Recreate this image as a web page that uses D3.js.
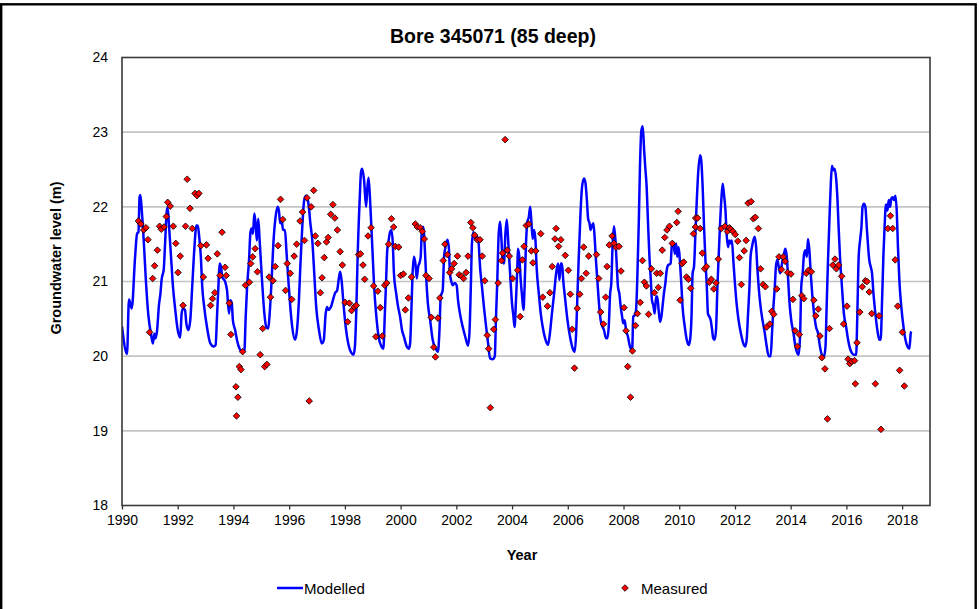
<!DOCTYPE html>
<html>
<head>
<meta charset="utf-8">
<script src="https://cdn.jsdelivr.net/npm/d3@7"></script>
<style>
  html, body { margin: 0; padding: 0; background: #fff; }
  svg { display: block; font-family: Arial, "Liberation Sans", sans-serif; }
</style>
</head>
<body>
<svg id="chart" width="979" height="609"></svg>
<script>
// ---------- DATA ----------
const chartTitle = "Bore 345071 (85 deep)";
const xTicks = [1990,1992,1994,1996,1998,2000,2002,2004,2006,2008,2010,2012,2014,2016,2018];
const yTicks = [18,19,20,21,22,23,24];

const modelledDates = [
1990.00,1990.18,1990.25,1990.35,1990.47,1990.54,1990.59,1990.63,1990.66,1990.71,1990.78,1990.85,1990.94,
1991.04,1991.11,1991.16,1991.21,1991.26,1991.33,1991.38,1991.42,1991.50,1991.54,1991.61,1991.64,1991.69,1991.76,1991.83,1991.90,
1992.00,1992.09,1992.14,1992.19,1992.26,1992.31,1992.38,1992.45,1992.52,1992.60,1992.67,1992.72,1992.76,1992.83,1992.88,1992.95,
1993.05,1993.17,1993.29,1993.36,1993.41,1993.46,1993.50,1993.55,1993.60,1993.70,1993.77,1993.84,1993.89,1993.94,1993.98,
1994.06,1994.13,1994.22,1994.32,1994.39,1994.44,1994.49,1994.56,1994.61,1994.65,1994.70,1994.75,1994.80,1994.84,1994.89,1994.94,1994.99,
1995.04,1995.11,1995.18,1995.25,1995.30,1995.37,1995.44,1995.51,1995.59,1995.63,1995.68,1995.73,1995.78,1995.85,1995.90,1995.97,
1996.04,1996.11,1996.21,1996.28,1996.35,1996.40,1996.47,1996.54,1996.61,1996.66,1996.73,1996.75,1996.83,1996.90,1996.97,
1997.07,1997.17,1997.24,1997.31,1997.36,1997.40,1997.50,1997.57,1997.64,1997.72,1997.79,1997.83,1997.88,1997.95,
1998.03,1998.12,1998.24,1998.31,1998.36,1998.41,1998.46,1998.53,1998.58,1998.62,1998.69,1998.76,1998.81,1998.85,1998.90,1998.95,
1999.00,1999.05,1999.12,1999.21,1999.31,1999.38,1999.43,1999.48,1999.52,1999.57,1999.62,1999.67,1999.72,1999.76,1999.84,1999.91,1999.98,
2000.05,2000.12,2000.22,2000.29,2000.34,2000.39,2000.43,2000.48,2000.53,2000.58,2000.63,2000.67,2000.72,2000.77,2000.82,2000.86,2000.91,2000.98,
2001.06,2001.15,2001.25,2001.34,2001.39,2001.44,2001.51,2001.56,2001.61,2001.68,2001.73,2001.77,2001.82,2001.87,2001.94,
2002.01,2002.06,2002.13,2002.23,2002.32,2002.42,2002.47,2002.52,2002.56,2002.61,2002.66,2002.71,2002.75,2002.80,2002.85,2002.92,2002.99,
2003.07,2003.14,2003.21,2003.31,2003.38,2003.42,2003.47,2003.52,2003.57,2003.62,2003.66,2003.71,2003.76,2003.81,2003.86,2003.90,2003.95,
2004.00,2004.05,2004.09,2004.14,2004.19,2004.21,2004.26,2004.31,2004.36,2004.41,2004.45,2004.50,2004.55,2004.60,2004.65,2004.69,2004.74,2004.79,2004.84,2004.88,2004.96,
2005.03,2005.10,2005.20,2005.29,2005.36,2005.43,2005.51,2005.58,2005.65,2005.70,2005.75,2005.79,2005.84,2005.91,2005.99,
2006.08,2006.18,2006.25,2006.30,2006.34,2006.39,2006.46,2006.51,2006.58,2006.63,2006.68,2006.73,2006.78,2006.82,2006.87,2006.92,2006.97,
2007.01,2007.06,2007.11,2007.18,2007.25,2007.30,2007.37,2007.42,2007.47,2007.52,2007.56,2007.61,2007.66,2007.71,2007.76,2007.80,2007.85,2007.90,2007.95,2007.99,
2008.04,2008.09,2008.16,2008.23,2008.31,2008.35,2008.40,2008.45,2008.50,2008.55,2008.59,2008.64,2008.69,2008.74,2008.78,2008.83,2008.88,2008.93,2008.98,
2009.02,2009.07,2009.12,2009.17,2009.21,2009.26,2009.31,2009.36,2009.41,2009.45,2009.50,2009.55,2009.60,2009.65,2009.69,2009.74,2009.79,2009.84,2009.89,2009.93,2009.98,
2010.03,2010.08,2010.12,2010.20,2010.27,2010.34,2010.39,2010.44,2010.48,2010.53,2010.58,2010.63,2010.67,2010.75,2010.79,2010.84,2010.89,2010.94,2010.99,
2011.03,2011.08,2011.13,2011.18,2011.22,2011.27,2011.32,2011.37,2011.42,2011.46,2011.51,2011.56,2011.61,2011.66,2011.70,2011.75,2011.80,2011.85,2011.89,2011.94,2011.99,
2012.06,2012.13,2012.21,2012.30,2012.37,2012.42,2012.47,2012.52,2012.56,2012.61,2012.66,2012.71,2012.76,2012.80,2012.85,2012.92,2012.99,
2013.07,2013.14,2013.21,2013.28,2013.33,2013.38,2013.43,2013.47,2013.52,2013.57,2013.62,2013.67,2013.71,2013.76,2013.81,2013.86,2013.91,2013.95,
2014.02,2014.10,2014.17,2014.24,2014.29,2014.34,2014.38,2014.43,2014.48,2014.53,2014.58,2014.62,2014.67,2014.72,2014.77,2014.84,2014.91,2014.98,
2015.05,2015.12,2015.20,2015.25,2015.29,2015.34,2015.39,2015.44,2015.48,2015.53,2015.58,2015.63,2015.68,2015.72,2015.77,2015.84,2015.91,2015.99,
2016.06,2016.13,2016.20,2016.27,2016.35,2016.39,2016.44,2016.49,2016.54,2016.58,2016.63,2016.68,2016.73,2016.78,2016.82,2016.87,2016.92,2016.97,
2017.04,2017.11,2017.18,2017.23,2017.28,2017.33,2017.37,2017.42,2017.47,2017.52,2017.57,2017.61,2017.66,2017.71,2017.76,2017.81,2017.85,2017.90,2017.97,
2018.05,2018.12,2018.19,2018.26,2018.31,2018.33
];
const modelledLevels = [
20.40,20.03,20.76,20.64,21.33,21.64,21.66,22.13,22.16,21.95,21.55,21.06,20.57,
20.30,20.17,20.30,20.24,20.35,20.70,20.84,21.02,21.17,21.46,21.95,21.99,21.73,21.33,20.93,20.66,
20.35,20.25,20.57,20.64,20.62,20.44,20.35,20.48,20.93,21.46,21.75,21.75,21.64,21.33,20.93,20.66,
20.39,20.17,20.13,20.15,20.53,20.93,21.24,21.20,21.06,21.00,20.88,20.57,20.75,20.71,20.48,
20.35,20.21,20.10,20.06,20.06,20.53,20.93,21.29,21.66,21.71,21.64,21.91,21.75,21.55,21.84,21.55,21.24,
20.93,20.57,20.39,20.37,20.57,21.02,21.55,21.86,22.00,21.95,21.78,21.82,21.69,21.69,21.42,21.02,
20.66,20.39,20.22,20.35,20.75,21.20,21.73,22.09,22.15,22.11,21.91,21.82,21.55,21.11,20.66,
20.35,20.17,20.21,20.57,20.66,20.62,20.66,20.75,20.84,20.88,21.06,21.13,21.02,20.70,
20.39,20.17,20.04,20.02,20.13,20.62,21.37,22.09,22.47,22.51,22.35,22.00,22.27,22.39,22.12,21.73,
21.33,20.93,20.57,20.26,20.13,20.10,20.53,21.02,21.42,21.55,21.66,21.69,21.51,21.11,20.84,20.66,20.53,
20.35,20.26,20.13,20.10,20.17,20.66,21.11,21.33,21.24,21.04,21.20,21.24,21.33,21.73,21.73,21.51,21.11,20.70,
20.48,20.22,20.11,20.06,20.31,20.80,20.88,21.33,21.46,21.56,21.46,21.11,21.00,20.95,20.98,
20.95,20.75,20.57,20.39,20.26,20.14,20.31,20.93,21.51,21.66,21.60,21.55,21.60,21.51,21.20,20.93,20.66,
20.39,20.17,19.97,19.96,20.00,20.48,21.02,21.64,21.80,21.55,21.29,21.24,21.64,21.83,21.55,21.29,20.98,
20.70,20.53,20.39,20.75,21.20,21.44,21.33,21.02,20.80,20.62,20.93,21.51,21.80,21.86,22.00,21.82,21.57,21.69,21.55,21.20,20.84,
20.57,20.39,20.22,20.15,20.31,20.57,20.84,21.11,21.24,21.02,21.24,21.24,21.00,20.75,20.48,
20.26,20.10,20.06,20.31,20.75,21.29,21.95,22.26,22.38,22.33,22.12,21.84,21.78,21.69,21.75,21.78,21.55,
21.29,21.02,20.75,20.48,20.39,20.35,20.24,20.24,20.40,20.84,20.97,21.51,21.74,21.55,21.20,20.93,20.84,20.66,20.53,20.44,
20.48,20.35,20.26,20.13,20.08,20.53,20.55,20.62,21.11,21.82,22.53,23.02,23.08,22.76,22.53,22.27,21.78,21.33,21.02,
20.75,20.68,20.57,20.80,20.80,20.62,20.46,20.53,20.70,20.84,20.97,21.15,21.22,21.23,21.24,21.51,21.53,21.37,21.51,21.33,21.46,
21.24,20.93,20.66,20.39,20.22,20.15,20.22,20.53,21.11,21.20,21.64,22.09,22.40,22.69,22.62,22.27,21.73,21.29,20.93,
20.57,20.53,20.48,20.35,20.24,20.22,20.35,20.93,21.38,21.73,22.09,22.31,22.15,21.95,21.64,21.46,21.55,21.51,21.55,21.29,21.02,
20.70,20.48,20.31,20.17,20.13,20.22,20.57,20.93,21.33,21.46,21.55,21.60,21.46,21.20,20.93,20.66,20.48,
20.31,20.13,20.00,20.00,20.31,20.66,20.93,21.20,21.29,21.20,21.11,21.20,21.29,21.37,21.44,21.33,21.02,20.75,
20.48,20.31,20.13,20.04,20.02,20.31,20.93,21.11,21.37,21.42,21.33,21.57,21.42,21.11,20.84,20.57,20.39,20.31,
20.13,20.02,20.00,20.13,20.66,21.29,21.82,22.31,22.55,22.49,22.51,22.38,22.09,21.73,21.33,20.93,20.57,20.39,
20.22,20.10,20.04,20.02,20.02,20.53,21.33,21.55,21.73,22.00,22.04,22.00,21.73,21.46,21.29,21.20,21.11,20.84,
20.57,20.35,20.22,20.22,20.75,21.37,21.73,22.03,21.95,22.09,22.00,22.11,22.13,22.09,22.15,21.91,21.46,21.02,20.66,
20.39,20.22,20.13,20.10,20.31,20.33
];

const measuredDates = [
1990.59,1990.68,1990.78,1990.86,1990.93,1990.99,
1991.10,1991.17,1991.27,1991.35,1991.41,1991.51,1991.59,1991.64,1991.73,1991.84,1991.93,
1992.01,1992.09,1992.19,1992.28,1992.34,1992.44,1992.52,1992.62,1992.69,1992.76,1992.83,1992.92,
1993.03,1993.09,1993.18,1993.25,1993.33,1993.42,1993.52,1993.59,1993.70,1993.74,1993.85,1993.91,
1994.09,1994.11,1994.16,1994.21,1994.27,1994.33,1994.43,1994.57,1994.62,1994.69,1994.78,1994.86,1994.96,
1995.05,1995.12,1995.20,1995.28,1995.33,1995.42,1995.50,1995.60,1995.69,1995.77,1995.87,1995.93,
1996.04,1996.09,1996.18,1996.27,1996.39,1996.48,1996.55,1996.64,1996.72,1996.79,1996.88,1996.94,
1997.03,1997.12,1997.18,1997.26,1997.34,1997.40,1997.49,1997.57,1997.64,1997.73,1997.83,1997.91,
1998.01,1998.10,1998.16,1998.24,1998.33,1998.41,1998.49,1998.56,1998.65,1998.71,1998.83,1998.94,
1999.03,1999.11,1999.18,1999.27,1999.34,1999.43,1999.50,1999.57,1999.67,1999.75,1999.81,1999.93,
2000.00,2000.10,2000.17,2000.28,2000.39,2000.53,2000.60,2000.70,2000.78,2000.85,2000.91,
2001.02,2001.10,2001.19,2001.25,2001.34,2001.41,2001.53,2001.59,2001.68,2001.76,2001.83,2001.92,
2002.04,2002.10,2002.19,2002.26,2002.35,2002.42,2002.52,2002.59,2002.66,2002.75,2002.85,2002.93,
2003.02,2003.11,2003.16,2003.22,2003.34,2003.40,2003.50,2003.62,2003.66,2003.75,2003.83,2003.90,
2004.02,2004.20,2004.29,2004.37,2004.43,2004.51,2004.60,2004.69,2004.75,2004.85,
2005.03,2005.10,2005.27,2005.36,2005.44,2005.54,2005.58,2005.67,2005.75,2005.91,
2006.02,2006.09,2006.16,2006.24,2006.34,2006.43,2006.49,2006.57,2006.66,2006.75,
2007.03,2007.11,2007.18,2007.28,2007.36,2007.41,2007.49,2007.59,2007.66,2007.73,2007.84,2007.91,
2008.02,2008.09,2008.15,2008.25,2008.32,2008.43,2008.50,2008.60,2008.68,2008.75,2008.82,2008.90,
2009.00,2009.11,2009.19,2009.25,2009.32,2009.39,2009.48,2009.56,2009.65,2009.75,2009.91,2009.96,
2010.03,2010.10,2010.16,2010.26,2010.33,2010.41,2010.51,2010.58,2010.59,2010.66,2010.75,2010.83,2010.91,2010.98,
2011.08,2011.15,2011.24,2011.32,2011.40,2011.51,2011.64,2011.73,2011.80,2011.85,2011.93,
2012.01,2012.10,2012.16,2012.23,2012.33,2012.40,2012.47,2012.58,2012.66,2012.73,2012.84,2012.92,
2013.01,2013.09,2013.14,2013.25,2013.32,2013.39,2013.50,2013.58,2013.67,2013.73,2013.80,2013.89,
2014.01,2014.08,2014.16,2014.24,2014.31,2014.40,2014.47,2014.56,2014.64,2014.74,2014.83,2014.90,2014.99,
2015.05,2015.12,2015.23,2015.32,2015.39,2015.51,2015.59,2015.64,2015.72,2015.83,2015.90,
2016.02,2016.06,2016.12,2016.19,2016.29,2016.32,2016.38,2016.48,2016.57,2016.68,2016.74,2016.82,2016.91,
2017.04,2017.17,2017.24,2017.49,2017.58,2017.66,2017.75,2017.84,2017.91,
2018.01,2018.08
];
const measuredLevels = [
21.81,21.77,21.69,21.72,21.56,20.32,
21.04,21.21,21.42,21.74,21.70,21.73,21.87,22.06,22.01,21.74,21.51,
21.12,21.34,20.68,21.74,22.37,21.98,21.71,22.18,22.15,22.18,21.48,21.06,
21.49,21.31,20.68,20.77,20.85,21.37,21.08,21.66,21.19,21.08,20.71,20.29,
19.59,19.20,19.45,19.86,19.82,20.06,20.95,20.99,21.24,21.33,21.44,21.13,20.02,
20.37,19.86,19.89,21.06,20.79,21.01,21.20,21.48,22.10,21.83,20.88,21.24,
21.11,20.76,21.34,21.50,21.81,21.93,21.55,22.12,19.40,22.00,22.22,21.61,
21.51,20.85,21.05,21.32,21.53,21.59,21.90,22.03,21.85,21.69,21.40,21.22,
20.72,20.46,20.71,20.61,20.66,20.68,21.36,21.37,21.22,21.03,21.61,21.72,
20.94,20.26,20.87,20.65,20.27,20.95,20.98,21.50,21.84,21.73,21.47,21.46,
21.08,21.10,20.62,20.78,21.06,21.77,21.73,21.72,21.67,21.57,21.08,
21.04,20.52,20.12,19.99,20.51,20.78,21.28,21.50,21.36,21.12,21.17,21.24,
21.34,21.09,21.07,21.04,21.12,21.34,21.79,21.72,21.62,21.56,21.56,21.34,
21.01,20.28,20.10,19.31,20.36,20.49,20.98,21.28,21.38,22.90,21.42,21.34,
21.04,21.15,20.53,21.29,21.47,21.75,21.77,21.41,21.25,21.41,
21.64,20.79,20.67,20.85,21.20,21.57,21.71,21.47,21.56,21.35,
21.15,20.83,20.36,19.84,20.64,20.83,21.04,21.46,21.11,21.34,
21.36,21.04,20.59,20.43,20.79,21.20,21.49,21.61,21.51,21.46,21.47,21.14,
20.65,20.34,19.86,19.45,20.07,20.41,20.57,20.72,21.28,20.99,20.94,20.56,
21.17,20.85,21.11,20.92,21.11,21.42,21.59,21.69,21.74,21.51,21.79,21.94,
20.75,21.24,21.26,21.06,21.03,20.91,21.64,21.73,21.85,21.85,21.71,21.38,21.17,21.20,
20.99,21.03,20.90,20.98,21.30,21.71,21.74,21.67,21.72,21.70,21.67,
21.63,21.54,21.32,20.96,21.41,21.55,22.05,22.07,21.84,21.86,21.71,21.17,
20.96,20.93,20.39,20.43,20.60,20.56,20.90,21.33,21.16,21.33,21.27,21.12,
21.10,20.76,20.34,20.13,20.29,20.81,20.77,21.11,21.15,21.13,20.75,20.54,20.63,
20.27,19.98,19.83,19.16,20.37,21.22,21.30,21.17,21.22,21.07,20.43,
20.67,19.96,19.90,19.93,19.94,19.63,20.18,20.59,20.93,21.01,21.00,20.86,20.57,
19.63,20.54,19.02,21.71,21.88,21.71,21.29,20.67,19.81,
20.32,19.60
];

// ---------- CHART ----------
const plot = { left: 122, right: 930, top: 57.5, bottom: 505.5 };
const svg = d3.select("#chart");

// outer frame
svg.append("rect")
  .attr("x", 1.2).attr("y", 4.3)
  .attr("width", 974.5).attr("height", 640)
  .attr("fill", "none").attr("stroke", "#000").attr("stroke-width", 2.4);

const x = d3.scaleLinear().domain([1990, 2019]).range([plot.left, plot.right]);
const y = d3.scaleLinear().domain([18, 24]).range([plot.bottom, plot.top]);

// gridlines
svg.append("g")
  .selectAll("line")
  .data(yTicks.filter(t => t > 18 && t < 24))
  .join("line")
  .attr("x1", plot.left).attr("x2", plot.right)
  .attr("y1", d => y(d)).attr("y2", d => y(d))
  .attr("stroke", "#c4c4c4").attr("stroke-width", 1.6);

// title
svg.append("text")
  .attr("x", 493).attr("y", 43)
  .attr("text-anchor", "middle")
  .attr("font-weight", "bold").attr("font-size", 19.5)
  .text(chartTitle);

// x axis
const xAxis = d3.axisBottom(x)
  .tickValues(xTicks)
  .tickFormat(d3.format("d"))
  .tickSize(4).tickSizeOuter(0).tickPadding(6);
const gx = svg.append("g")
  .attr("transform", `translate(0,${plot.bottom})`)
  .call(xAxis);
gx.select(".domain").remove();
gx.selectAll(".tick line").attr("stroke", "#333").attr("stroke-width", 1.3);
gx.selectAll(".tick text")
  .attr("font-size", 14).attr("font-family", "Arial, 'Liberation Sans', sans-serif")
  .attr("fill", "#000");

// y axis
const yAxis = d3.axisLeft(y)
  .tickValues(yTicks)
  .tickFormat(d3.format("d"))
  .tickSize(0).tickPadding(14);
const gy = svg.append("g")
  .attr("transform", `translate(${plot.left},0)`)
  .call(yAxis);
gy.select(".domain").remove();
gy.selectAll(".tick text")
  .attr("font-size", 14).attr("font-family", "Arial, 'Liberation Sans', sans-serif")
  .attr("fill", "#000");

// modelled line
const modelled = modelledDates.map((d, i) => ({ t: d, v: modelledLevels[i] }));
const line = d3.line().x(d => x(d.t)).y(d => y(d.v)).curve(d3.curveMonotoneX);
svg.append("clipPath").attr("id", "plotclip")
  .append("rect")
  .attr("x", plot.left).attr("y", plot.top)
  .attr("width", plot.right - plot.left).attr("height", plot.bottom - plot.top);

svg.append("path")
  .datum(modelled)
  .attr("clip-path", "url(#plotclip)")
  .attr("fill", "none")
  .attr("stroke", "#0000ff")
  .attr("stroke-width", 2.5)
  .attr("stroke-linejoin", "round")
  .attr("d", line);

// measured points
const measured = measuredDates.map((d, i) => ({ t: d, v: measuredLevels[i] }));
const diamond = "M0,-3.3L3.3,0L0,3.3L-3.3,0Z";
svg.append("g")
  .selectAll("path")
  .data(measured)
  .join("path")
  .attr("transform", d => `translate(${x(d.t)},${y(d.v)})`)
  .attr("d", diamond)
  .attr("fill", "#ff0000")
  .attr("stroke", "#000")
  .attr("stroke-width", 0.8);

// plot border
svg.append("rect")
  .attr("x", plot.left).attr("y", plot.top)
  .attr("width", plot.right - plot.left).attr("height", plot.bottom - plot.top)
  .attr("fill", "none").attr("stroke", "#3a3a3a").attr("stroke-width", 1.6);

// axis titles
svg.append("text")
  .attr("transform", "translate(61,258) rotate(-90)")
  .attr("text-anchor", "middle")
  .attr("font-weight", "bold").attr("font-size", 14.5)
  .text("Groundwater level (m)");

svg.append("text")
  .attr("x", 522).attr("y", 560)
  .attr("text-anchor", "middle")
  .attr("font-weight", "bold").attr("font-size", 14.5)
  .text("Year");

// legend
const lg = svg.append("g");
lg.append("line")
  .attr("x1", 277).attr("x2", 303).attr("y1", 588).attr("y2", 588)
  .attr("stroke", "#0000ff").attr("stroke-width", 2.5);
lg.append("text")
  .attr("x", 304).attr("y", 594)
  .attr("font-size", 15)
  .text("Modelled");
lg.append("path")
  .attr("transform", "translate(625,588)")
  .attr("d", diamond)
  .attr("fill", "#ff0000").attr("stroke", "#000").attr("stroke-width", 0.8);
lg.append("text")
  .attr("x", 641).attr("y", 594)
  .attr("font-size", 15)
  .text("Measured");
</script>
</body>
</html>
